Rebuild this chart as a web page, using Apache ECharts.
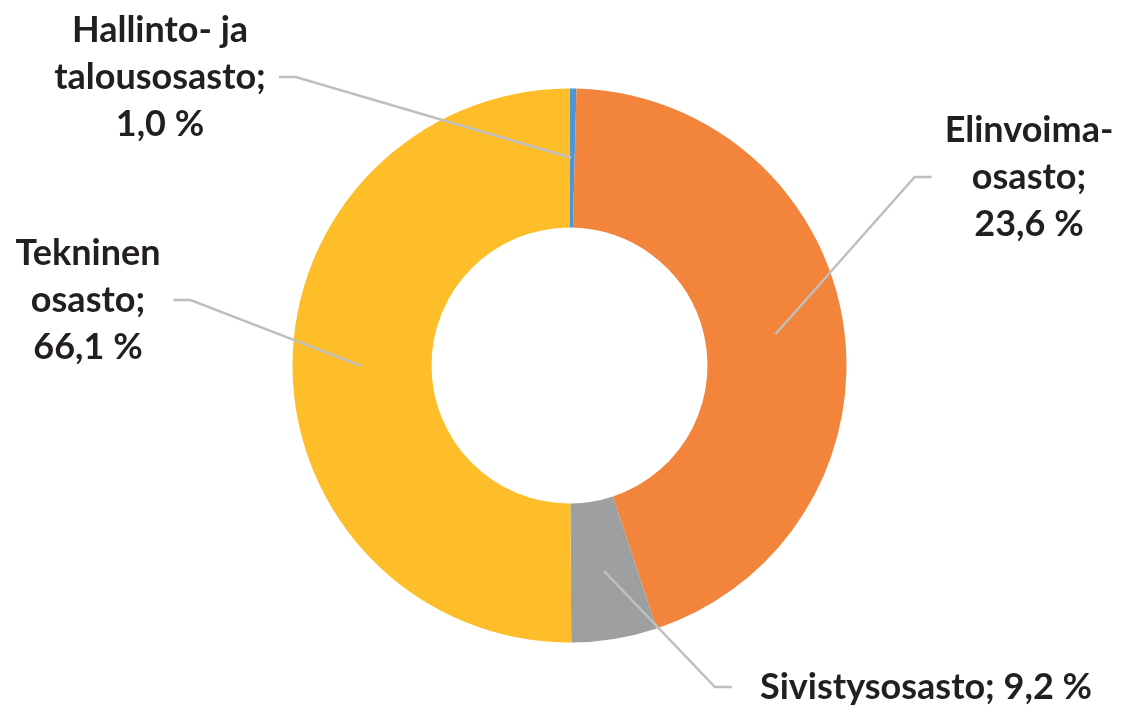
<!DOCTYPE html>
<html>
<head>
<meta charset="utf-8">
<script src="https://cdn.jsdelivr.net/npm/echarts@6/dist/echarts.min.js"></script>
<style>
  html, body { margin: 0; padding: 0; background: #fff; }
  #chart { width: 1122px; height: 709px; }
</style>
</head>
<body>
<div id="chart"></div>
<script>
// osastot (sektorien koot luettu kuvasta)
const names = ['Hallinto- ja\ntalousosasto', 'Elinvoima-\nosasto', 'Sivistysosasto', 'Tekninen\nosasto'];
const values = [0.4, 44.5, 5.0, 50.1];
const labelPercents = ['1,0 %', '23,6 %', '9,2 %', '66,1 %'];
const colors = ['#4E95D6', '#F2843C', '#9D9FA0', '#FDBE2A'];

// ring geometry
const CENTER = [569.5, 365.5];
const R_INNER = 138;
const R_OUTER = 277;

// label placement (center of text block) and gap to the guide line
const labelPos = [
    { x: 160, y: 77, gap: 13 },
    { x: 1029, y: 177, gap: 13 },
    { x: 926, y: 687, gap: 28 },
    { x: 88, y: 300, gap: 13 }
];

function initChart() {
    const chart = echarts.init(document.getElementById('chart'));

    const total = values.reduce((a, b) => a + b, 0);

    // label line anchors: middle of each slice, halfway through the ring
    const midR = (R_INNER + R_OUTER) / 2 / R_OUTER;
    let acc = 0;
    const anchors = values.map((v, i) => {
        const mid = acc + v / 2;
        acc += v;
        return {
            value: [midR, mid],
            label: { padding: [0, labelPos[i].gap] }
        };
    });

    const option = {
        animation: false,
        polar: {
            center: CENTER,
            radius: R_OUTER
        },
        angleAxis: {
            type: 'value',
            min: 0,
            max: total,
            startAngle: 90,
            clockwise: true,
            show: false
        },
        radiusAxis: {
            type: 'value',
            min: 0,
            max: 1,
            show: false
        },
        series: [{
            type: 'pie',
            z: 1,
            center: CENTER,
            radius: [R_INNER, R_OUTER],
            startAngle: 90,
            clockwise: true,
            silent: true,
            data: names.map((name, i) => ({
                name: name,
                value: values[i],
                itemStyle: { color: colors[i] }
            })),
            label: { show: false },
            labelLine: { show: false }
        }, {
            type: 'scatter',
            coordinateSystem: 'polar',
            z: 5,
            silent: true,
            symbol: 'circle',
            symbolSize: 2,
            itemStyle: { color: 'rgba(0,0,0,0)' },
            data: anchors,
            label: {
                show: true,
                formatter: function (p) {
                    const i = p.dataIndex;
                    const sep = i === 2 ? '; ' : ';\n';
                    return names[i] + sep + labelPercents[i];
                },
                fontFamily: 'Lato',
                fontWeight: 'bold',
                fontSize: 36,
                lineHeight: 47,
                color: '#231F20',
                opacity: 1,
                textBorderWidth: 0,
                align: 'center'
            },
            labelLine: {
                show: true,
                length2: 17,
                minTurnAngle: 0,
                lineStyle: {
                    color: '#BFBFBF',
                    width: 2.5,
                    opacity: 1
                }
            },
            labelLayout: function (params) {
                const p = labelPos[params.dataIndex];
                return {
                    x: p.x,
                    y: p.y,
                    align: 'center',
                    verticalAlign: 'middle'
                };
            }
        }]
    };

    chart.setOption(option);
}

document.addEventListener('DOMContentLoaded', initChart);
</script>
</body>
</html>
